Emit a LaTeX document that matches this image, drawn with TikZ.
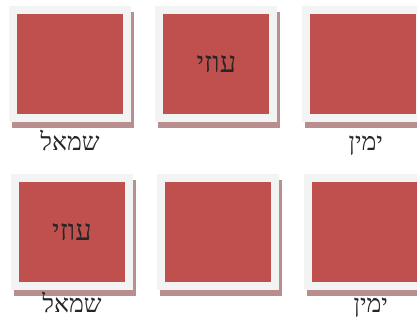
\documentclass[tikz,border=0pt]{standalone}
\usepackage{fontspec}
\usepackage{tikz}
\usetikzlibrary{positioning,shadows}
\TeXXeTstate=1
\newfontfamily\hebfont[Script=Hebrew]{Liberation Serif}
\definecolor{cardred}{RGB}{192,80,77}
\definecolor{cardframe}{RGB}{242,244,244}
\definecolor{cardshadow}{RGB}{184,142,142}
\tikzset{
	card/.style={fill=cardframe, minimum width=122pt, minimum height=116pt, inner sep=0pt,
		drop shadow={shadow xshift=3pt, shadow yshift=-6pt, fill=cardshadow, opacity=1}},
	redsq/.style={fill=cardred, minimum width=106pt, minimum height=100pt, inner sep=0pt,
		font=\hebfont\fontsize{29}{29}\selectfont, text=black!85},
	side/.style={font=\hebfont\fontsize{25}{25}\selectfont, text=black!85, inner sep=0pt}
}
\newcommand{\heb}[1]{\raisebox{-3pt}{\beginR #1\endR}}

\begin{document}
\begin{tikzpicture}[x=1pt, y=-1pt, node distance=24pt]
	\useasboundingbox (0,0) rectangle (417,320);
	% top row
	\node[card] (c1) at (70,64) {};
	\node[card, right=of c1] (c2) {};
	\node[card, right=of c2] (c3) {};
	\node[redsq] (r1) at (c1) {};
	\node[redsq] (r2) at (c2) {\heb{עוזי}};
	\node[redsq] (r3) at (c3) {};
	\node[side, below=25pt of c1.south, anchor=base] (l1) {\heb{שמאל}};
	\node[side, below=25pt of c3.south, anchor=base, xshift=3pt] (l3) {\heb{ימין}};
	% bottom row
	\node[card] (d1) at (72,232) {};
	\node[card, right=of d1] (d2) {};
	\node[card, right=of d2] (d3) {};
	\node[redsq] (s1) at (d1) {\heb{עוזי}};
	\node[redsq] (s2) at (d2) {};
	\node[redsq] (s3) at (d3) {};
	\node[side, below=19pt of d1.south, anchor=base] (m1) {\heb{שמאל}};
	\node[side, below=19pt of d3.south, anchor=base, xshift=6pt] (m3) {\heb{ימין}};
\end{tikzpicture}
\end{document}
